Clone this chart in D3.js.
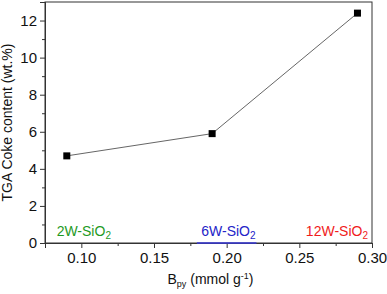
<!DOCTYPE html>
<html>
<head>
<meta charset="utf-8">
<script src="https://cdn.jsdelivr.net/npm/d3@7"></script>
<style>
  body { margin: 0; background: #fff; }
  svg text { font-family: "Liberation Sans", Arial, sans-serif; }
</style>
</head>
<body>
<div id="chart"></div>
<script>
// data
var bpy = [0.09, 0.19, 0.29];
var coke = [4.7, 5.9, 12.4];
var samples = ["2W", "6W", "12W"];
var sampleColors = ["#1f9a1f", "#2424c8", "#f01c1c"];
var xTicks = [0.10, 0.15, 0.20, 0.25, 0.30];
var yTicks = [0, 2, 4, 6, 8, 10, 12];

var margin = { top: 2, right: 15, bottom: 51, left: 45 },
    w = 387 - margin.left - margin.right,
    h = 294 - margin.top - margin.bottom;

var svg = d3.select('#chart')
    .append('svg')
    .attr('width', w + margin.left + margin.right)
    .attr('height', h + margin.top + margin.bottom)
    .append('g')
    .attr("transform", `translate(${margin.left},${margin.top})`);

var x = d3.scaleLinear().domain([0.075, 0.30]).range([0, w]);
var y = d3.scaleLinear().domain([0, 13]).range([h, 0]);

// frame
svg.append('rect')
    .attr('width', w).attr('height', h)
    .attr('fill', 'none')
    .attr('stroke', '#333')
    .attr('stroke-width', 1);

// axes with minor ticks
var xAxis = d3.axisBottom(x).tickValues(xTicks).tickFormat(d3.format('.2f')).tickSize(5).tickPadding(4);
var xMinor = d3.axisBottom(x).tickValues([0.075, 0.125, 0.175, 0.225, 0.275]).tickFormat('').tickSize(3);
var yAxis = d3.axisLeft(y).tickValues(yTicks).tickFormat(d3.format('d')).tickSize(5).tickPadding(3);
var yMinor = d3.axisLeft(y).tickValues([1, 3, 5, 7, 9, 11, 13]).tickFormat('').tickSize(3);

[[xAxis, 'x'], [xMinor, 'x'], [yAxis, 'y'], [yMinor, 'y']].forEach(function (a) {
    var g = svg.append('g')
        .attr('transform', a[1] == 'x' ? `translate(0,${h})` : null)
        .call(a[0]);
    g.select('.domain').attr('stroke', '#333');
    g.selectAll('line').attr('stroke', '#333');
    g.selectAll('text').attr('font-size', 15).attr('fill', '#111')
        .style('font-family', '"Liberation Sans", Arial, sans-serif');
});

// blue mark on x axis under 6W
svg.append('line')
    .attr('x1', x(0.1795)).attr('x2', x(0.2205))
    .attr('y1', h).attr('y2', h)
    .attr('stroke', '#3a3ad8').attr('stroke-width', 1.5);

// line + markers
var pts = bpy.map((d, i) => [d, coke[i]]);
svg.append('path')
    .datum(pts)
    .attr('fill', 'none')
    .attr('stroke', '#666')
    .attr('stroke-width', 1)
    .attr('d', d3.line().x(d => x(d[0])).y(d => y(d[1])));

svg.selectAll('rect.pt')
    .data(pts)
    .enter().append('rect')
    .attr('class', 'pt')
    .attr('x', d => x(d[0]) - 3.5)
    .attr('y', d => y(d[1]) - 3.5)
    .attr('width', 7).attr('height', 7)
    .attr('fill', '#000');

// sample labels
var labelX = [0.083, 0.1825, 0.2545];
samples.forEach(function (s, i) {
    var t = svg.append('text')
        .attr('x', x(labelX[i]))
        .attr('y', h - 7)
        .attr('font-size', 14)
        .attr('fill', sampleColors[i]);
    t.append('tspan').text(s + '-SiO');
    t.append('tspan').attr('font-size', 10).attr('dy', 3).text('2');
});

// axis titles
var xt = svg.append('text')
    .attr('x', w / 2 + 2)
    .attr('y', h + 41)
    .attr('text-anchor', 'middle')
    .attr('font-size', 14)
    .attr('fill', '#111');
xt.append('tspan').text('B');
xt.append('tspan').attr('font-size', 9).attr('dy', 3).text('py');
xt.append('tspan').attr('dy', -3).text(' (mmol g');
xt.append('tspan').attr('font-size', 9).attr('dy', -5).text('-1');
xt.append('tspan').attr('dy', 5).text(')');

svg.append('text')
    .attr('transform', `translate(${-33},${h / 2}) rotate(-90)`)
    .attr('text-anchor', 'middle')
    .attr('font-size', 14)
    .attr('fill', '#111')
    .text('TGA Coke content (wt.%)');
</script>
</body>
</html>
